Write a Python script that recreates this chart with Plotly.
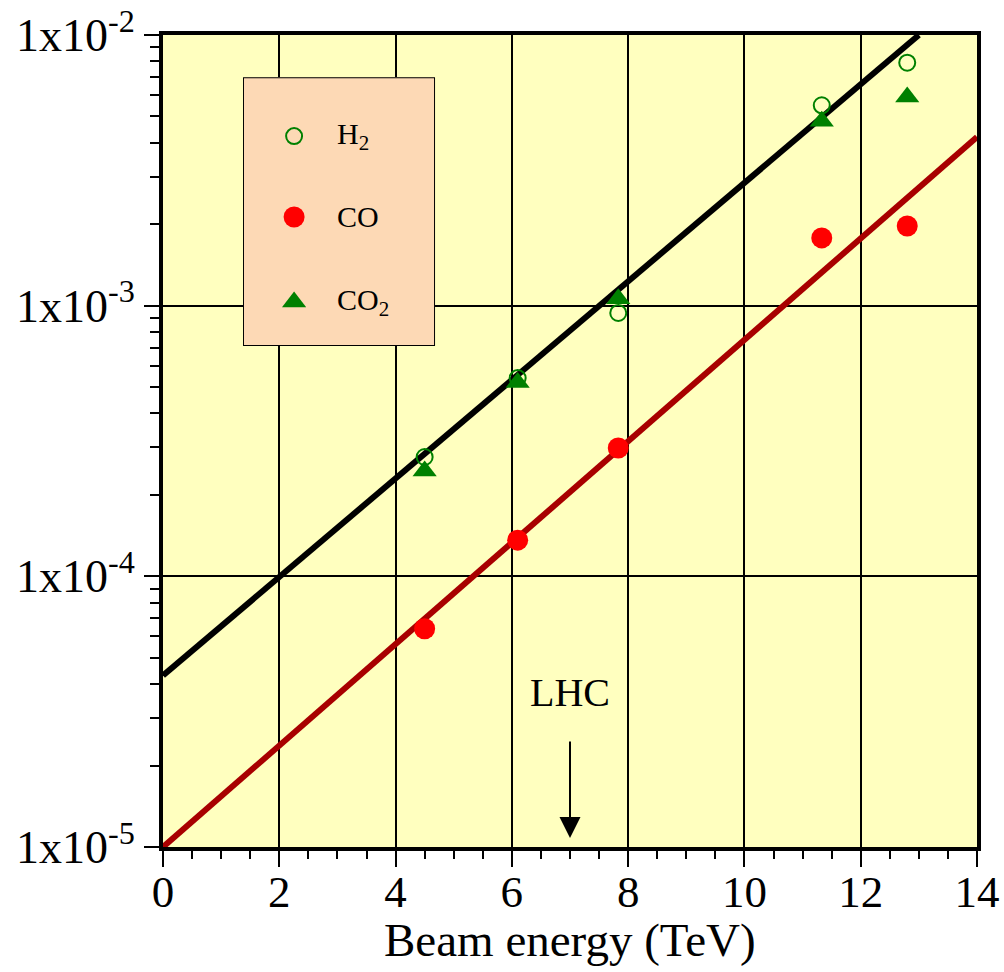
import plotly.graph_objects as go

# Beam energies (TeV) of the measured points
energy = [4.5, 6.1, 7.83, 11.33, 12.8]

# Measured values for each gas
h2 = [2.76e-4, 5.4e-4, 9.4e-4, 5.5e-3, 7.9e-3]
co = [6.4e-5, 1.36e-4, 2.98e-4, 1.78e-3, 1.97e-3]
co2 = [2.45e-4, 5.2e-4, 1.06e-3, 4.8e-3, 5.9e-3]

# Exponential fit lines (end points; straight on the log axis)
fit_black_x = [0.0, 13.0]
fit_black_y = [4.3e-5, 1.0e-2]
fit_red_x = [0.0, 14.0]
fit_red_y = [1.0e-5, 4.2e-3]

# Axis ticks
y_tickvals = [1e-5, 1e-4, 1e-3, 1e-2]
y_ticktext = ["1x10<sup>-5</sup>", "1x10<sup>-4</sup>", "1x10<sup>-3</sup>", "1x10<sup>-2</sup>"]
y_minor = [k * 10.0 ** e for e in (-5, -4, -3) for k in range(2, 10)]

# Key entries
key_names = ["H<sub>2</sub>", "CO", "CO<sub>2</sub>"]

FONT = "Liberation Serif"
GREEN = "#008000"
RED = "#FF0000"
DARKRED = "#A80000"

fig = go.Figure()

fig.add_trace(go.Scatter(x=fit_black_x, y=fit_black_y, mode="lines",
                         line=dict(color="black", width=6), showlegend=False))
fig.add_trace(go.Scatter(x=fit_red_x, y=fit_red_y, mode="lines",
                         line=dict(color=DARKRED, width=6), showlegend=False))

fig.add_trace(go.Scatter(x=energy, y=co2, mode="markers",
                         marker=dict(symbol="triangle-up", size=21, color=GREEN),
                         showlegend=False))
fig.add_trace(go.Scatter(x=energy, y=h2, mode="markers",
                         marker=dict(symbol="circle-open", size=16, color=GREEN,
                                     line=dict(width=2, color=GREEN)),
                         showlegend=False))
fig.add_trace(go.Scatter(x=energy, y=co, mode="markers",
                         marker=dict(symbol="circle", size=21, color=RED),
                         showlegend=False))

# Key drawn on its own small hidden axes inside the plot area
key_x = [0.266, 0.266, 0.266]
key_y = [0.781, 0.480, 0.164]
fig.add_trace(go.Scatter(x=[key_x[0]], y=[key_y[0]], xaxis="x2", yaxis="y2", mode="markers",
                         marker=dict(symbol="circle-open", size=16, color=GREEN,
                                     line=dict(width=2, color=GREEN)),
                         showlegend=False, hoverinfo="skip"))
fig.add_trace(go.Scatter(x=[key_x[1]], y=[key_y[1]], xaxis="x2", yaxis="y2", mode="markers",
                         marker=dict(symbol="circle", size=21, color=RED),
                         showlegend=False, hoverinfo="skip"))
fig.add_trace(go.Scatter(x=[key_x[2]], y=[key_y[2]], xaxis="x2", yaxis="y2", mode="markers",
                         marker=dict(symbol="triangle-up", size=21, color=GREEN),
                         showlegend=False, hoverinfo="skip"))

fig.add_shape(type="rect", xref="x2", yref="y2", x0=0, x1=1, y0=0, y1=1,
              fillcolor="#FDD9B5", line=dict(color="black", width=2), layer="between")

for name, ky in zip(key_names, key_y):
    fig.add_annotation(xref="x2", yref="y2", x=0.479, y=ky, text=name, showarrow=False,
                       xanchor="left", yanchor="middle",
                       font=dict(family=FONT, size=30, color="black"))

# LHC marker
fig.add_annotation(xref="x", yref="paper", x=7, y=0.19, text="LHC", showarrow=False,
                   xanchor="center", yanchor="middle",
                   font=dict(family=FONT, size=40, color="black"))
fig.add_annotation(xref="x", yref="paper", x=7, y=0.011, text="", showarrow=True,
                   ax=0, ay=-98, arrowhead=2, arrowsize=2.1, arrowwidth=2,
                   arrowcolor="black", standoff=0)

# Axis title placed below the tick labels
fig.add_annotation(xref="paper", yref="paper", x=0.5, y=-0.115, text="Beam energy (TeV)",
                   showarrow=False, xanchor="center", yanchor="middle",
                   font=dict(family=FONT, size=47, color="black"))

fig.update_layout(
    width=1004, height=972,
    margin=dict(l=163, r=27, t=35, b=125),
    paper_bgcolor="white",
    plot_bgcolor="#FFFFBF",
    font=dict(family=FONT, color="black"),
    xaxis=dict(
        range=[0, 14], dtick=2, tick0=0,
        showgrid=True, gridcolor="black", gridwidth=2,
        showline=True, linecolor="black", linewidth=4, mirror=True,
        ticks="outside", ticklen=16, tickwidth=2, tickcolor="black",
        minor=dict(dtick=0.5, ticks="outside", ticklen=8, tickwidth=2,
                   tickcolor="black", showgrid=False),
        tickfont=dict(family=FONT, size=45, color="black"),
        ticklabelstandoff=-14,
        zeroline=False, automargin=False,
    ),
    yaxis=dict(
        type="log", range=[-5, -2],
        tickmode="array", tickvals=y_tickvals, ticktext=y_ticktext,
        showgrid=True, gridcolor="black", gridwidth=2,
        showline=True, linecolor="black", linewidth=4, mirror=True,
        ticks="outside", ticklen=15, tickwidth=2, tickcolor="black",
        minor=dict(tickmode="array", tickvals=y_minor, ticks="outside", ticklen=9,
                   tickwidth=2, tickcolor="black", showgrid=False),
        tickfont=dict(family=FONT, size=46, color="black"),
        zeroline=False, automargin=False,
    ),
    xaxis2=dict(domain=[0.0983, 0.3342], range=[0, 1], anchor="y2", visible=False,
                fixedrange=True),
    yaxis2=dict(domain=[0.617, 0.948], range=[0, 1], anchor="x2", visible=False,
                fixedrange=True),
)

fig.write_html("out.html")
